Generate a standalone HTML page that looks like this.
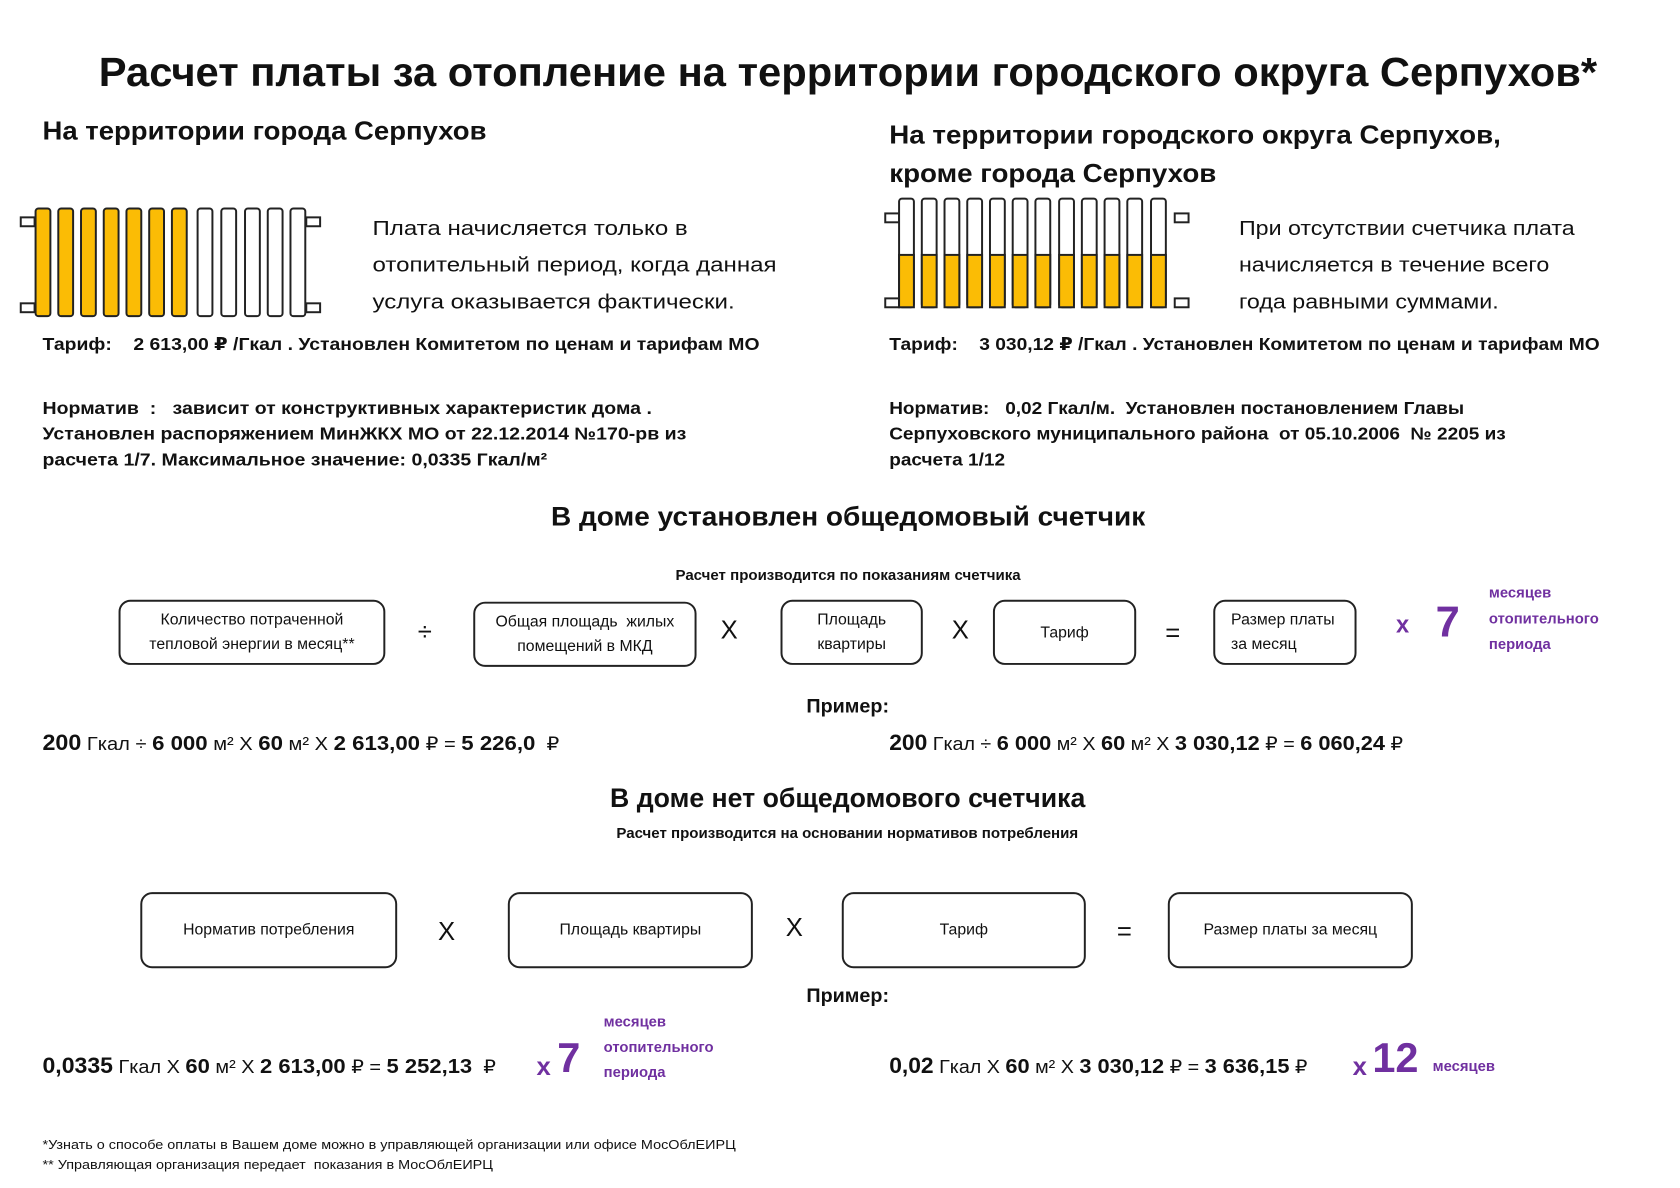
<!DOCTYPE html>
<html><head><meta charset="utf-8"><style>
body{margin:0;width:1680px;height:1187px;background:#fff;position:relative;overflow:hidden;font-family:"Liberation Sans","DejaVu Sans",sans-serif;color:#111}
#w{position:absolute;left:0;top:0;width:1700px;height:1202px;transform:scale(0.988);transform-origin:0 0}
.t{position:absolute;white-space:nowrap}
.b{font-weight:bold}
.s{display:inline-block;transform:scaleX(var(--k));transform-origin:0 0}
.c{display:inline-block;transform:scaleX(var(--k));transform-origin:50% 0}
.box{position:absolute;border:2px solid #222;border-radius:12px;box-sizing:border-box;display:flex;align-items:center;justify-content:center;text-align:center;font-size:16px;line-height:25px}
.op{position:absolute;font-size:26px;transform:translate(-50%,-50%)}
.p{color:#7030a0;font-weight:bold}
</style></head><body><div id="w">
<div class="t b" style="left:0;width:1716px;text-align:center;top:50px;font-size:41px"><span class="c" style="--k:1.03">Расчет платы за отопление на территории городского округа Серпухов*</span></div>
<div class="t b" style="left:43px;top:117px;font-size:26px"><span class="s" style="--k:1.07">На территории города Серпухов</span></div>
<div class="t b" style="left:900px;top:117px;font-size:26px;line-height:39px"><span class="s" style="--k:1.08">На территории городского округа Серпухов,<br>кроме города Серпухов</span></div>

<svg style="position:absolute;left:0;top:0" width="1700" height="340">
<g stroke="#222" stroke-width="2">
<rect x="21" y="220" width="14" height="9" fill="#fff"/><rect x="21" y="307" width="14" height="9" fill="#fff"/>
<rect x="310" y="220" width="14" height="9" fill="#fff"/><rect x="310" y="307" width="14" height="9" fill="#fff"/>
<rect x="36" y="211" width="15" height="109" rx="3" fill="#fbbc05"/>
<rect x="59" y="211" width="15" height="109" rx="3" fill="#fbbc05"/>
<rect x="82" y="211" width="15" height="109" rx="3" fill="#fbbc05"/>
<rect x="105" y="211" width="15" height="109" rx="3" fill="#fbbc05"/>
<rect x="128" y="211" width="15" height="109" rx="3" fill="#fbbc05"/>
<rect x="151" y="211" width="15" height="109" rx="3" fill="#fbbc05"/>
<rect x="174" y="211" width="15" height="109" rx="3" fill="#fbbc05"/>
<rect x="200" y="211" width="15" height="109" rx="3" fill="#fff"/>
<rect x="224" y="211" width="15" height="109" rx="3" fill="#fff"/>
<rect x="248" y="211" width="15" height="109" rx="3" fill="#fff"/>
<rect x="271" y="211" width="15" height="109" rx="3" fill="#fff"/>
<rect x="294" y="211" width="15" height="109" rx="3" fill="#fff"/>
<g transform="translate(12,0)">
<rect x="884" y="216" width="14" height="9" fill="#fff"/><rect x="884" y="302" width="14" height="9" fill="#fff"/>
<rect x="1177" y="216" width="14" height="9" fill="#fff"/><rect x="1177" y="302" width="14" height="9" fill="#fff"/>
</g>
</g>
<g stroke="#222" stroke-width="2" transform="translate(12,0)">
<g id="s"><rect x="898" y="201" width="15" height="110" rx="3" fill="#fff"/><rect x="898" y="258" width="15" height="53" fill="#fbbc05"/></g>
<use href="#s" x="23"/><use href="#s" x="46"/><use href="#s" x="69"/><use href="#s" x="92"/><use href="#s" x="115"/><use href="#s" x="138"/><use href="#s" x="162"/><use href="#s" x="185"/><use href="#s" x="208"/><use href="#s" x="231"/><use href="#s" x="255"/>
</g>
</svg>

<div class="t" style="left:377px;top:213px;font-size:21px;line-height:37px"><span class="s" style="--k:1.16">Плата начисляется только в<br>отопительный период, когда данная<br>услуга оказывается фактически.</span></div>
<div class="t" style="left:1254px;top:213px;font-size:21px;line-height:37px"><span class="s" style="--k:1.12">При отсутствии счетчика плата<br>начисляется в течение всего<br>года равными суммами.</span></div>

<div class="t b" style="left:43px;top:338px;font-size:18px"><span class="s" style="--k:1.09">Тариф:&nbsp;&nbsp;&nbsp; 2 613,00 ₽ /Гкал . Установлен Комитетом по ценам и тарифам МО</span></div>
<div class="t b" style="left:900px;top:338px;font-size:18px"><span class="s" style="--k:1.08">Тариф:&nbsp;&nbsp;&nbsp; 3 030,12 ₽ /Гкал . Установлен Комитетом по ценам и тарифам МО</span></div>

<div class="t b" style="left:43px;top:400px;font-size:17.5px;line-height:26px"><span class="s" style="--k:1.13">Норматив&nbsp;&nbsp;:&nbsp;&nbsp; зависит от конструктивных характеристик дома .<br>Установлен распоряжением МинЖКХ МО от 22.12.2014 №170-рв из<br>расчета 1/7. Максимальное значение: 0,0335 Гкал/м²</span></div>
<div class="t b" style="left:900px;top:400px;font-size:17.5px;line-height:26px"><span class="s" style="--k:1.1">Норматив:&nbsp;&nbsp; 0,02 Гкал/м.&nbsp; Установлен постановлением Главы<br>Серпуховского муниципального района&nbsp; от 05.10.2006&nbsp; № 2205 из<br>расчета 1/12</span></div>

<div class="t b" style="left:0;width:1716px;text-align:center;top:508px;font-size:27px"><span class="c" style="--k:1.05">В доме установлен общедомовый счетчик</span></div>
<div class="t b" style="left:0;width:1716px;text-align:center;top:575px;font-size:14.5px"><span class="c" style="--k:1.05">Расчет производится по показаниям счетчика</span></div>

<div class="box" style="left:120px;top:607px;width:270px;height:66px">Количество потраченной<br>тепловой энергии в месяц**</div>
<div class="op" style="left:430px;top:640px">÷</div>
<div class="box" style="left:479px;top:609px;width:226px;height:66px">Общая площадь&nbsp; жилых<br>помещений в МКД</div>
<div class="op" style="left:738px;top:638px">X</div>
<div class="box" style="left:790px;top:607px;width:144px;height:66px">Площадь<br>квартиры</div>
<div class="op" style="left:972px;top:638px">X</div>
<div class="box" style="left:1005px;top:607px;width:145px;height:66px">Тариф</div>
<div class="op" style="left:1187px;top:641px">=</div>
<div class="box" style="left:1228px;top:607px;width:145px;height:66px;justify-content:flex-start;text-align:left;padding-left:16px">Размер платы<br>за месяц</div>
<div class="t p" style="left:1413px;top:619px;font-size:24px">x</div>
<div class="t p" style="left:1453px;top:605px;font-size:44px">7</div>
<div class="t p" style="left:1507px;top:588px;font-size:15px;line-height:26px">месяцев<br>отопительного<br>периода</div>

<div class="t b" style="left:0;width:1716px;text-align:center;top:704px;font-size:20px">Пример:</div>
<div class="t" style="left:43px;top:739px;font-size:19px"><span class="s" style="--k:1.07"><b style="font-size:22px">200</b> Гкал ÷ <b style="font-size:21px">6 000</b> м² X <b style="font-size:21px">60</b> м² X <b style="font-size:21px">2 613,00</b> ₽ = <b style="font-size:21px">5 226,0</b>&nbsp; ₽</span></div>
<div class="t" style="left:900px;top:739px;font-size:19px"><span class="s" style="--k:1.05"><b style="font-size:22px">200</b> Гкал ÷ <b style="font-size:21px">6 000</b> м² X <b style="font-size:21px">60</b> м² X <b style="font-size:21px">3 030,12</b> ₽ = <b style="font-size:21px">6 060,24</b> ₽</span></div>

<div class="t b" style="left:0;width:1716px;text-align:center;top:793px;font-size:27px">В доме нет общедомового счетчика</div>
<div class="t b" style="left:0;width:1716px;text-align:center;top:836px;font-size:14.5px"><span class="c" style="--k:1.05">Расчет производится на основании нормативов потребления</span></div>

<div class="box" style="left:142px;top:903px;width:260px;height:77px">Норматив потребления</div>
<div class="op" style="left:452px;top:943px">X</div>
<div class="box" style="left:514px;top:903px;width:248px;height:77px;align-items:flex-start;padding-top:24px">Площадь квартиры</div>
<div class="op" style="left:804px;top:939px">X</div>
<div class="box" style="left:852px;top:903px;width:247px;height:77px;align-items:flex-start;padding-top:24px">Тариф</div>
<div class="op" style="left:1138px;top:943px">=</div>
<div class="box" style="left:1182px;top:903px;width:248px;height:77px;align-items:flex-start;padding-top:24px">Размер платы за месяц</div>

<div class="t b" style="left:0;width:1716px;text-align:center;top:997px;font-size:20px">Пример:</div>
<div class="t" style="left:43px;top:1066px;font-size:19px"><span class="s" style="--k:1.06"><b style="font-size:22px">0,0335</b> Гкал X <b style="font-size:21px">60</b> м² X <b style="font-size:21px">2 613,00</b> ₽ = <b style="font-size:21px">5 252,13</b>&nbsp; ₽</span></div>
<div class="t p" style="left:543px;top:1064px;font-size:26px">x</div>
<div class="t p" style="left:564px;top:1047px;font-size:42px">7</div>
<div class="t p" style="left:611px;top:1022px;font-size:15px;line-height:25.5px">месяцев<br>отопительного<br>периода</div>
<div class="t" style="left:900px;top:1066px;font-size:19px"><span class="s" style="--k:1.05"><b style="font-size:22px">0,02</b> Гкал X <b style="font-size:21px">60</b> м² X <b style="font-size:21px">3 030,12</b> ₽ = <b style="font-size:21px">3 636,15</b> ₽</span></div>
<div class="t p" style="left:1369px;top:1064px;font-size:26px">x</div>
<div class="t p" style="left:1389px;top:1047px;font-size:42px">12</div>
<div class="t p" style="left:1450px;top:1071px;font-size:15px">месяцев</div>

<div class="t" style="left:43px;top:1149px;font-size:13.5px;line-height:20px"><span class="s" style="--k:1.08">*Узнать о способе оплаты в Вашем доме можно в управляющей организации или офисе МосОблЕИРЦ<br>** Управляющая организация передает&nbsp; показания в МосОблЕИРЦ</span></div>
</div></body></html>
